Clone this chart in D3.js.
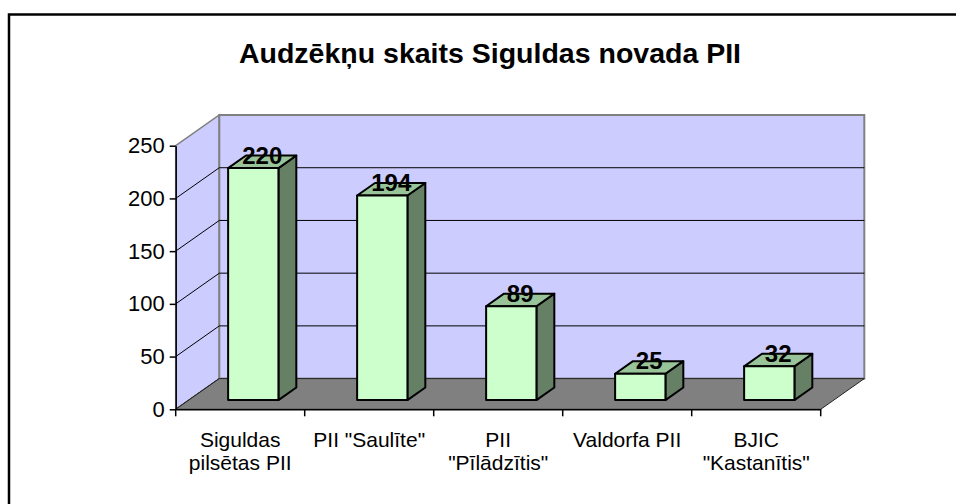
<!DOCTYPE html>
<html>
<head>
<meta charset="utf-8">
<script src="https://cdn.jsdelivr.net/npm/d3@7"></script>
<style>
    body { margin: 0; background: #fff; }
    text { font-family: Arial, "Liberation Sans", sans-serif; fill: #000; }
</style>
</head>
<body>
<svg id="chart" width="956" height="504"></svg>
<script>
// chart data
const categories = ["Siguldas\npilsētas PII", "PII \"Saulīte\"", "PII\n\"Pīlādzītis\"", "Valdorfa PII", "BJIC\n\"Kastanītis\""];
const values = [220, 194, 89, 25, 32];
const yTicks = [0, 50, 100, 150, 200, 250];
const title = "Audzēkņu skaits Siguldas novada PII";

document.addEventListener("DOMContentLoaded", () => {
    const svg = d3.select("#chart");

    // plot frame (front plane) and depth offset of the 3d box
    const left = 175.7, right = 820.7, bottom = 409.3, top = 145.7;
    const depthX = 43.6, depthY = -30.7;
    const f1 = 0.30, f2 = 0.71; // bar front / back depth

    const y = d3.scaleLinear().domain([0, 250]).range([bottom, top]);
    const x = d3.scaleBand().domain(categories).range([left, right]);
    const bw = x.bandwidth() * 0.39;

    // project a front point back by fraction f of the depth
    const p = (px, py, f) => [px + f * depthX, py + f * depthY];
    const poly = pts => pts.map(q => q.join(",")).join(" ");

    // outer border
    svg.append("rect")
        .attr("x", 9).attr("y", 14.5)
        .attr("width", 1000).attr("height", 600)
        .attr("fill", "none")
        .attr("stroke", "#000")
        .attr("stroke-width", 2.5);

    svg.append("text")
        .attr("x", 490)
        .attr("y", 63)
        .attr("text-anchor", "middle")
        .style("font-size", "28.5px")
        .style("font-weight", "bold")
        .text(title);

    // side wall
    svg.append("polygon")
        .attr("points", poly([p(left, y(0), 0), p(left, y(0), 1), p(left, y(250), 1), p(left, y(250), 0)]))
        .attr("fill", "#CCCCFF")
        .attr("stroke", "#808080")
        .attr("stroke-width", 1.5);

    // back wall
    svg.append("rect")
        .attr("x", left + depthX)
        .attr("y", y(250) + depthY)
        .attr("width", right - left)
        .attr("height", y(0) - y(250))
        .attr("fill", "#CCCCFF")
        .attr("stroke", "#808080")
        .attr("stroke-width", 2);

    // grid lines on back and side wall
    const grid = svg.append("g").attr("stroke", "#000").attr("stroke-width", 1);
    grid.selectAll(".back")
        .data(yTicks.filter(t => t > 0 && t < 250))
        .enter()
        .append("line")
        .attr("x1", left + depthX)
        .attr("x2", right + depthX)
        .attr("y1", t => y(t) + depthY)
        .attr("y2", t => y(t) + depthY);
    grid.selectAll(".side")
        .data(yTicks.filter(t => t < 250))
        .enter()
        .append("line")
        .attr("x1", left)
        .attr("x2", left + depthX)
        .attr("y1", t => y(t))
        .attr("y2", t => y(t) + depthY);

    // floor
    svg.append("polygon")
        .attr("points", poly([p(left, y(0), 0), p(right, y(0), 0), p(right, y(0), 1), p(left, y(0), 1)]))
        .attr("fill", "#808080")
        .attr("stroke", "#222")
        .attr("stroke-width", 1);

    // bars
    const bars = svg.selectAll(".bar")
        .data(categories.map((c, i) => ({ cat: c, value: values[i] })))
        .enter()
        .append("g")
        .attr("class", "bar")
        .attr("stroke", "#000")
        .attr("stroke-width", 2)
        .attr("stroke-linejoin", "round");

    const bx = d => x(d.cat) + (x.bandwidth() - bw) / 2;

    bars.append("polygon")
        .attr("fill", "#668066")
        .attr("points", d => poly([p(bx(d) + bw, y(d.value), f1), p(bx(d) + bw, y(0), f1), p(bx(d) + bw, y(0), f2), p(bx(d) + bw, y(d.value), f2)]));

    bars.append("polygon")
        .attr("fill", "#99C499")
        .attr("points", d => poly([p(bx(d), y(d.value), f1), p(bx(d) + bw, y(d.value), f1), p(bx(d) + bw, y(d.value), f2), p(bx(d), y(d.value), f2)]));

    bars.append("rect")
        .attr("fill", "#CCFFCC")
        .attr("x", d => p(bx(d), 0, f1)[0])
        .attr("y", d => p(0, y(d.value), f1)[1])
        .attr("width", bw)
        .attr("height", d => y(0) - y(d.value));

    // value labels on the top faces
    const fm = (f1 + f2) / 2;
    svg.selectAll(".val")
        .data(categories.map((c, i) => ({ cat: c, value: values[i] })))
        .enter()
        .append("text")
        .attr("class", "val")
        .attr("x", d => p(bx(d) + bw / 2, 0, fm)[0])
        .attr("y", d => p(0, y(d.value), fm)[1] + 2)
        .attr("text-anchor", "middle")
        .style("font-size", "24px")
        .style("font-weight", "bold")
        .text(d => d.value);

    // y axis
    const yAxis = svg.append("g")
        .attr("transform", `translate(${left}, 0)`)
        .call(d3.axisLeft(y).tickValues(yTicks).tickSize(6).tickSizeOuter(0).tickPadding(5));
    yAxis.selectAll("text").style("font-size", "22px");
    yAxis.selectAll("path, line").attr("stroke", "#000").attr("stroke-width", 1.5);

    // x axis with labels centred in each band
    const xAxis = svg.append("g")
        .attr("transform", `translate(0, ${bottom})`)
        .call(d3.axisBottom(x).tickSize(0).tickSizeOuter(0));
    xAxis.select("path").attr("stroke", "#000").attr("stroke-width", 1.5);
    xAxis.selectAll(".tick text")
        .style("font-size", "21px")
        .attr("dy", null)
        .each(function (d) {
            const t = d3.select(this).text("");
            d.split("\n").forEach((line, i) => {
                t.append("tspan").attr("x", 0).attr("y", 37.4 + i * 23.5).text(line);
            });
        });

    // ticks between categories
    xAxis.selectAll(".sep")
        .data(categories.map(c => x(c)).concat([right]))
        .enter()
        .append("line")
        .attr("x1", d => d).attr("x2", d => d)
        .attr("y1", 0).attr("y2", 7)
        .attr("stroke", "#000")
        .attr("stroke-width", 1.5);
});
</script>
</body>
</html>
